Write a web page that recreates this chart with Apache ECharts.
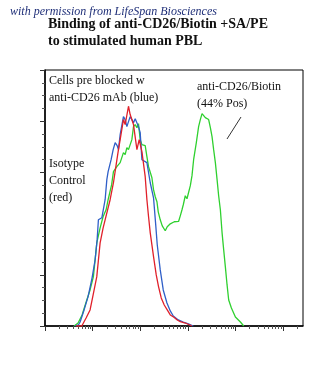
<!DOCTYPE html>
<html><head><meta charset="utf-8">
<script src="https://cdn.jsdelivr.net/npm/echarts@6/dist/echarts.min.js"></script>
<style>html,body{margin:0;padding:0;background:#fff}#c{width:329px;height:373px}</style>
</head><body><div id="c"></div>
<script>
// x: log10 fluorescence (decades), y: cell counts
const isotypeRed = [[0.653,0],[0.773,0],[0.863,7.8],[0.947,15.7],[1.011,30.3],[1.088,48.2],[1.158,81.2],[1.221,95.9],[1.263,103.7],[1.368,123.3],[1.438,139.9],[1.495,157.5],[1.543,172.2],[1.579,182],[1.648,201.6],[1.684,196.7],[1.754,214.6],[1.789,206.5],[1.859,196.7],[1.931,172.2],[1.979,182],[2.036,170.3],[2.105,145.8],[2.141,123.3],[2.175,106.9],[2.211,91],[2.280,67.8],[2.337,49.9],[2.385,38.5],[2.442,27.4],[2.505,20.5],[2.568,15.7],[2.632,10.8],[2.701,8.8],[2.779,5.9],[2.842,4.2],[2.947,2.9],[3.088,0]];
const blockedBlue = [[0.632,0],[0.701,1],[0.737,3.9],[0.821,15.7],[0.905,28.7],[0.989,47],[1.053,64.6],[1.095,84.1],[1.122,103.7],[1.194,105.7],[1.263,123.3],[1.299,142.9],[1.326,150.7],[1.389,162.4],[1.432,172.2],[1.474,179.1],[1.516,176.1],[1.543,172.2],[1.579,186.9],[1.648,204.5],[1.684,201.6],[1.720,194.7],[1.754,199.6],[1.789,204.5],[1.825,201.6],[1.859,198.6],[1.895,202.5],[1.931,201.6],[1.964,194.7],[2.0,188.8],[2.036,162.4],[2.063,160.5],[2.141,159.5],[2.211,139.9],[2.280,125.2],[2.326,98.8],[2.358,79.3],[2.421,54.8],[2.484,35.2],[2.562,22.5],[2.632,14.7],[2.695,9.8],[2.800,5.9],[2.905,3.9],[3.011,2],[3.116,0]];
const cd26Green = [[0.611,0],[0.695,2.9],[0.779,10.8],[0.878,25.4],[0.947,35.2],[1.017,48.2],[1.088,81.2],[1.158,95.9],[1.221,106.9],[1.284,113.5],[1.326,123.3],[1.4,138],[1.438,150.7],[1.509,155.6],[1.579,159.5],[1.648,169.3],[1.684,167.3],[1.720,174.2],[1.754,172.2],[1.789,170.3],[1.825,182],[1.859,194.7],[1.895,196.7],[1.931,193.7],[1.964,197.6],[2.0,182],[2.036,177.1],[2.105,176.1],[2.141,165.4],[2.175,155.6],[2.246,144.8],[2.280,133.1],[2.316,126.2],[2.352,121.3],[2.379,111.5],[2.421,103.7],[2.463,97.8],[2.526,93],[2.568,96.9],[2.632,99.8],[2.716,101.8],[2.806,102.1],[2.842,107.6],[2.878,113.5],[2.905,118.4],[2.947,127.2],[2.983,124.3],[3.017,123.3],[3.053,137],[3.088,146.8],[3.122,162.4],[3.179,179.1],[3.227,194.7],[3.263,201.6],[3.299,207.4],[3.326,205.5],[3.368,203.5],[3.438,201.6],[3.474,193.7],[3.509,184.9],[3.543,172.2],[3.579,159.5],[3.615,142.9],[3.648,127.2],[3.684,113.5],[3.720,91],[3.754,74.4],[3.789,57.7],[3.825,40.1],[3.859,25.4],[3.916,17.6],[4.0,8.8],[4.063,5.9],[4.105,3.9],[4.175,0]];
const xMax = 5.42;
const majorTicks = [0,1,2,3,4,5];
const minorTicks = [];
majorTicks.forEach(d => { for (let k = 2; k <= 9; k++) { const v = d + Math.log10(k); if (v <= xMax) minorTicks.push(v); } });

const serif = '"Liberation Serif", "DejaVu Serif", serif';
const chart = echarts.init(document.getElementById('c'), null, {renderer:'canvas'});
const lineStyle = (c) => ({color:c, width:1.3});
chart.setOption({
  animation:false,
  grid:{left:45, right:26, top:70, bottom:47, show:true, borderColor:'#000', borderWidth:1, backgroundColor:'transparent'},
  xAxis:[
    {type:'value', min:0, max:xMax, position:'bottom',
     axisLine:{show:true, lineStyle:{color:'#000', width:1.5}},
     axisTick:{show:true, length:5, customValues:majorTicks, lineStyle:{color:'#333'}},
     axisLabel:{show:false}, splitLine:{show:false}},
    {type:'value', min:0, max:xMax, position:'bottom', gridIndex:0,
     axisLine:{show:false},
     axisTick:{show:true, length:3, customValues:minorTicks, lineStyle:{color:'#555'}},
     axisLabel:{show:false}, splitLine:{show:false}}
  ],
  yAxis:{type:'value', min:0, max:250, interval:50,
    axisLine:{show:true, lineStyle:{color:'#000', width:1.5}},
    axisTick:{show:true, length:5, lineStyle:{color:'#333'}},
    minorTick:{show:true, splitNumber:4, length:3, lineStyle:{color:'#555'}},
    axisLabel:{show:false}, splitLine:{show:false}},
  series:[
    {type:'line', data:cd26Green, showSymbol:false, lineStyle:lineStyle('#2fd02f'), z:2},
    {type:'line', data:blockedBlue, showSymbol:false, lineStyle:lineStyle('#2f5fc8'), z:3},
    {type:'line', data:isotypeRed, showSymbol:false, lineStyle:lineStyle('#e0202a'), z:4}
  ],
  graphic:[
    {type:'text', left:10, top:6, style:{text:'with permission from LifeSpan Biosciences', font:'italic 12px '+serif, fill:'#1f2f78'}},
    {type:'text', left:48, top:17, style:{text:'Binding of anti-CD26/Biotin +SA/PE', font:'bold 14px '+serif, fill:'#111'}},
    {type:'text', left:48, top:34, style:{text:'to stimulated human PBL', font:'bold 14px '+serif, fill:'#111'}},
    {type:'text', left:49, top:72, style:{text:'Cells pre blocked w\nanti-CD26 mAb (blue)', font:'12px '+serif, lineHeight:17, fill:'#111'}},
    {type:'text', left:49, top:155, style:{text:'Isotype\nControl\n(red)', font:'12px '+serif, lineHeight:17, fill:'#111'}},
    {type:'text', left:197, top:78, style:{text:'anti-CD26/Biotin\n(44% Pos)', font:'12px '+serif, lineHeight:17, fill:'#111'}},
    {type:'line', shape:{x1:241, y1:117, x2:227, y2:139}, style:{stroke:'#333', lineWidth:1}}
  ]
});
</script></body></html>
